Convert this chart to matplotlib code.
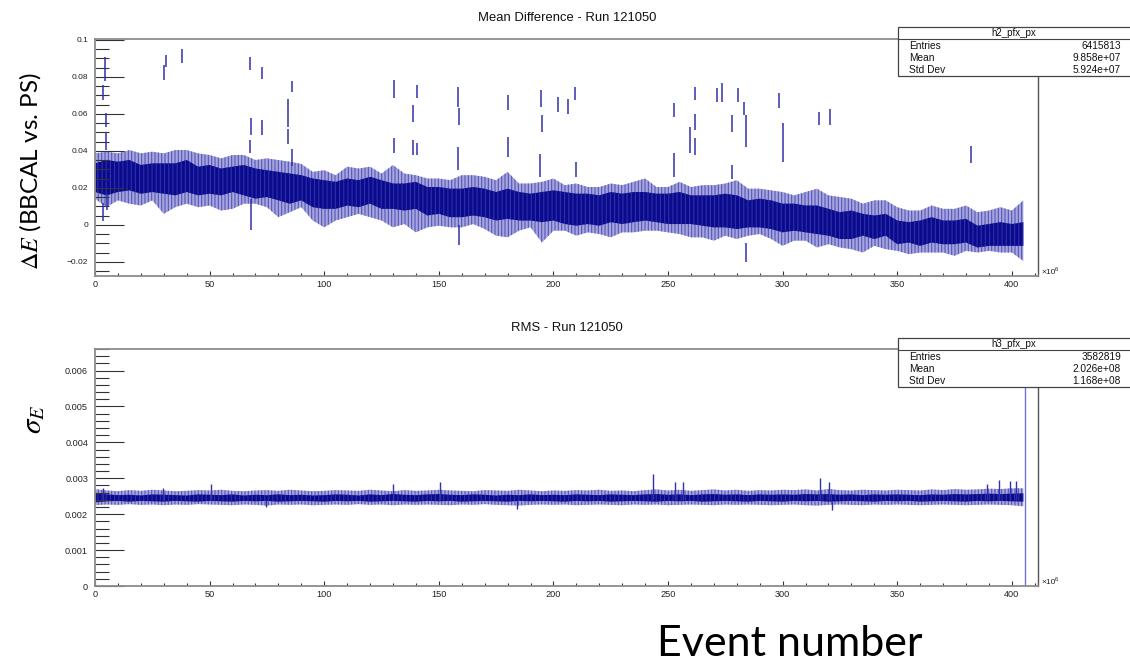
import numpy as np
import matplotlib
matplotlib.use("Agg")
import matplotlib.pyplot as plt
from matplotlib.patches import Rectangle
from matplotlib.lines import Line2D
from matplotlib.ticker import MultipleLocator, FuncFormatter

# ---------------------------------------------------------------- data
# event number (x 10^6) of the sampled profile points
event_grid = list(range(0, 406, 5))

# Mean difference profile (units of 1e-3): dense core and outer spread
dE_core_hi = [33.3, 35.1, 34.2, 35.1, 32.4, 33.3, 33.3, 33.3, 35.1, 31.5,
              32.4, 30.5, 31.5, 32.4, 30.5, 29.6, 28.7, 27.8, 26.9, 25.1,
              24.2, 23.3, 25.1, 24.2, 26.0, 24.2, 22.4, 22.4, 23.3, 20.5,
              20.5, 19.6, 19.6, 20.5, 19.6, 17.8, 19.6, 17.8, 16.9, 17.8,
              18.7, 17.8, 16.9, 16.9, 16.0, 17.8, 16.9, 17.8, 17.8, 16.9,
              16.9, 17.8, 16.0, 16.0, 16.0, 16.9, 16.0, 13.3, 14.2, 13.3,
              11.5, 11.5, 10.5, 10.5, 8.7, 6.9, 7.8, 6.0, 5.1, 6.0,
              2.4, 1.5, 2.4, 4.2, 2.4, 2.4, 3.3, -0.4, 0.5, 1.5,
              0.5, 1.5]
dE_core_lo = [17.8, 16.0, 17.8, 18.7, 16.9, 17.8, 16.9, 16.0, 17.8, 16.0,
              16.9, 16.0, 17.8, 16.0, 14.2, 15.1, 13.3, 11.5, 13.3, 9.6,
              8.7, 8.7, 10.5, 9.6, 11.5, 8.7, 8.7, 7.8, 8.7, 5.1,
              6.0, 4.2, 4.2, 5.1, 4.2, 2.4, 3.3, 2.4, 2.4, 1.5,
              2.4, 0.5, -0.4, 0.5, -0.4, 1.5, 0.5, 1.5, 2.4, 1.5,
              0.5, 0.5, 0.5, -0.4, -1.3, -1.3, -2.2, -1.3, -1.3, -2.2,
              -4.0, -3.1, -4.0, -4.9, -5.8, -7.6, -7.6, -5.8, -7.6, -5.8,
              -10.4, -9.5, -11.3, -9.5, -10.4, -10.4, -9.5, -12.2, -11.3, -11.3,
              -11.3, -11.3]
dE_env_hi = [38.7, 39.6, 38.7, 40.5, 38.7, 39.6, 38.7, 40.5, 40.5, 38.7,
             37.8, 36.0, 37.8, 37.8, 35.1, 36.0, 35.1, 34.2, 33.0, 28.7,
             29.6, 26.9, 31.5, 30.5, 31.5, 27.8, 32.4, 27.8, 26.9, 25.1,
             25.1, 24.2, 26.9, 26.9, 26.0, 24.2, 28.7, 22.4, 22.4, 23.3,
             25.1, 21.5, 22.4, 20.5, 20.5, 22.4, 21.5, 23.3, 25.1, 20.5,
             20.5, 23.3, 20.5, 21.5, 21.5, 22.4, 24.2, 19.6, 19.6, 18.7,
             17.8, 16.0, 17.8, 19.6, 16.0, 15.1, 14.2, 11.5, 13.3, 13.3,
             9.6, 7.8, 7.8, 10.5, 8.7, 8.7, 10.5, 6.9, 7.8, 9.6,
             7.8, 13.3]
dE_env_lo = [14.2, 9.6, 13.3, 11.5, 10.5, 13.3, 6.0, 9.6, 11.5, 9.6,
             10.5, 7.8, 8.7, 11.5, 11.5, 9.6, 4.2, 6.9, 9.6, 2.4,
             -1.3, 2.4, 4.2, 6.0, 4.2, 2.4, -1.3, 0.5, -4.0, -1.3,
             -0.4, -1.3, -1.3, 0.5, -2.2, -5.8, -6.7, -3.1, -1.3, -9.5,
             -3.1, -3.1, -5.8, -4.0, -4.9, -6.7, -4.0, -4.0, -3.1, -3.1,
             -4.0, -4.9, -6.7, -6.7, -8.5, -5.8, -7.6, -5.8, -4.9, -7.6,
             -11.3, -8.5, -8.5, -12.2, -10.4, -12.2, -13.1, -14.9, -11.3, -13.1,
             -14.0, -15.8, -14.9, -14.9, -14.9, -16.7, -14.0, -14.9, -14.0, -14.9,
             -14.9, -19.5]

# isolated high-error bins: event (x 10^6), low, high (units of 1e-3)
dE_outlier_x = [3.6, 4.2, 4.6, 5.0, 3.3, 5.3, 30.2, 30.8, 37.8,
                67.8, 68.2, 67.6, 68.0, 72.7, 72.7, 84.0, 84.4, 85.8, 85.8,
                130.4, 130.4, 138.6, 138.6, 140.4, 140.4,
                158.5, 158.7, 158.5, 158.6, 180.3, 180.3,
                194.4, 194.8, 194.2, 202.0, 206.2, 209.6, 209.8,
                252.8, 252.8, 259.6, 261.8, 261.8, 261.6,
                271.2, 273.4, 277.7, 277.9, 280.6, 283.2, 283.8, 283.8,
                298.6, 300.2, 316.0, 320.6, 382.2]
dE_outlier_lo = [67.6, 78.0, 53.0, 40.5, 2.0, 8.0, 78.4, 85.6, 87.7,
                 84.0, 48.6, 38.7, -3.0, 78.7, 48.6, 53.0, 44.0, 72.0, 32.0,
                 68.5, 38.7, 55.9, 37.8, 68.5, 37.8,
                 64.0, 54.0, 29.7, -10.8, 62.2, 37.0,
                 64.0, 50.5, 26.0, 61.0, 60.0, 67.6, 26.0,
                 58.6, 26.0, 38.7, 67.6, 51.4, 37.8,
                 66.7, 66.7, 50.5, 25.0, 66.7, 59.5, 42.3, -19.8,
                 63.0, 34.2, 54.0, 54.0, 33.7]
dE_outlier_hi = [75.7, 91.0, 60.4, 50.5, 12.0, 17.0, 86.5, 92.0, 95.0,
                 91.0, 57.7, 46.0, 14.0, 85.6, 56.8, 68.0, 52.0, 78.0, 41.0,
                 78.4, 46.8, 64.9, 46.0, 75.7, 44.5,
                 74.4, 63.0, 42.3, 0.0, 70.3, 47.7,
                 73.0, 59.5, 38.4, 69.0, 68.0, 74.8, 34.0,
                 65.8, 38.7, 53.0, 74.8, 60.0, 46.8,
                 73.9, 76.6, 59.5, 32.4, 73.9, 66.7, 59.5, -9.9,
                 71.2, 55.0, 61.3, 62.5, 42.9]

# RMS profile (units of 1e-3)
rms_core_hi = [2.60, 2.55, 2.53, 2.54, 2.52, 2.55, 2.54, 2.53, 2.52, 2.55,
               2.54, 2.53, 2.55, 2.52, 2.54, 2.53, 2.55, 2.53, 2.54, 2.52,
               2.53, 2.55, 2.54, 2.52, 2.55, 2.53, 2.56, 2.54, 2.53, 2.55,
               2.56, 2.54, 2.53, 2.55, 2.54, 2.52, 2.54, 2.53, 2.55, 2.53,
               2.54, 2.53, 2.55, 2.54, 2.53, 2.55, 2.54, 2.53, 2.55, 2.56,
               2.54, 2.55, 2.53, 2.55, 2.56, 2.54, 2.55, 2.53, 2.55, 2.54,
               2.55, 2.54, 2.56, 2.55, 2.56, 2.54, 2.55, 2.53, 2.55, 2.54,
               2.55, 2.54, 2.53, 2.55, 2.54, 2.56, 2.55, 2.56, 2.57, 2.56,
               2.57, 2.58]
rms_core_lo = [2.33, 2.36, 2.37, 2.35, 2.37, 2.36, 2.35, 2.37, 2.36, 2.35,
               2.37, 2.36, 2.35, 2.37, 2.36, 2.37, 2.35, 2.36, 2.37, 2.36,
               2.35, 2.37, 2.36, 2.37, 2.35, 2.36, 2.37, 2.36, 2.35, 2.37,
               2.36, 2.37, 2.35, 2.36, 2.37, 2.36, 2.35, 2.37, 2.36, 2.37,
               2.36, 2.35, 2.37, 2.36, 2.37, 2.35, 2.36, 2.37, 2.36, 2.35,
               2.37, 2.36, 2.37, 2.35, 2.36, 2.37, 2.36, 2.35, 2.37, 2.36,
               2.35, 2.37, 2.36, 2.37, 2.35, 2.36, 2.37, 2.36, 2.35, 2.37,
               2.36, 2.37, 2.35, 2.36, 2.37, 2.36, 2.35, 2.37, 2.36, 2.37,
               2.36, 2.35]
rms_env_hi = [2.70, 2.66, 2.64, 2.67, 2.65, 2.68, 2.66, 2.64, 2.65, 2.67,
              2.66, 2.68, 2.65, 2.64, 2.66, 2.67, 2.65, 2.68, 2.66, 2.64,
              2.65, 2.67, 2.66, 2.65, 2.68, 2.66, 2.64, 2.67, 2.65, 2.66,
              2.68, 2.66, 2.65, 2.64, 2.67, 2.66, 2.65, 2.68, 2.66, 2.64,
              2.66, 2.65, 2.67, 2.66, 2.68, 2.65, 2.66, 2.64, 2.67, 2.69,
              2.66, 2.68, 2.65, 2.67, 2.69, 2.66, 2.68, 2.65, 2.67, 2.66,
              2.68, 2.67, 2.69, 2.66, 2.70, 2.67, 2.66, 2.68, 2.67, 2.66,
              2.68, 2.67, 2.66, 2.69, 2.67, 2.70, 2.68, 2.69, 2.71, 2.70,
              2.72, 2.72]
rms_env_lo = [2.25, 2.27, 2.26, 2.28, 2.26, 2.27, 2.25, 2.27, 2.26, 2.28,
              2.27, 2.26, 2.25, 2.27, 2.26, 2.24, 2.27, 2.26, 2.27, 2.25,
              2.26, 2.27, 2.26, 2.28, 2.26, 2.27, 2.25, 2.27, 2.26, 2.27,
              2.26, 2.25, 2.27, 2.26, 2.28, 2.26, 2.25, 2.24, 2.26, 2.27,
              2.26, 2.27, 2.25, 2.26, 2.27, 2.26, 2.25, 2.27, 2.26, 2.27,
              2.25, 2.26, 2.27, 2.26, 2.25, 2.27, 2.26, 2.27, 2.26, 2.25,
              2.26, 2.27, 2.25, 2.24, 2.26, 2.27, 2.26, 2.25, 2.27, 2.26,
              2.27, 2.26, 2.25, 2.26, 2.27, 2.26, 2.25, 2.26, 2.27, 2.26,
              2.25, 2.22]

# sharp RMS bins: event (x 10^6), low, high (units of 1e-3)
rms_spike_x = [3.6, 29.6, 50.6, 74.5, 130.0, 150.3, 184.3, 243.6, 253.0,
               256.7, 316.5, 320.4, 321.5, 389.0, 394.4, 399.2, 401.6, 405.9]
rms_spike_lo = [2.40, 2.40, 2.40, 2.20, 2.40, 2.40, 2.15, 2.42, 2.40,
                2.40, 2.40, 2.40, 2.12, 2.40, 2.40, 2.40, 2.40, 0.0]
rms_spike_hi = [2.73, 2.73, 2.85, 2.40, 2.85, 2.91, 2.40, 3.11, 2.90,
                2.90, 3.02, 2.90, 2.38, 2.84, 2.94, 2.92, 2.92, 7.5]

mean_stats = ["h2_pfx_px", "6415813", "9.858e+07", "5.924e+07"]
rms_stats = ["h3_pfx_px", "3582819", "2.026e+08", "1.168e+08"]
stat_labels = ["Entries", "Mean", "Std Dev"]

# ---------------------------------------------------------------- style
W, H = 1130, 661
DARK = "#0a0a8c"
DARK_HATCH = "#2f2faa"
LIGHT = "#a6a6dc"
LIGHT_HATCH = "#5656bc"
MID = "#3030aa"
TALL = "#7373d8"
SANS = ["Liberation Sans", "DejaVu Sans"]
plt.rcParams["font.family"] = SANS
plt.rcParams["mathtext.fontset"] = "stix"
plt.rcParams["hatch.linewidth"] = 0.8


def fx(px):
    return px / W


def fy(py):
    return 1 - py / H


def tick_fmt(v, _):
    s = "%g" % round(v, 6)
    return s.replace("-", "\u2212")


def profile_band(ax, lo_env, hi_env, lo_core, hi_core):
    ax.fill_between(u, np.array(lo_env) * k, np.array(hi_env) * k,
                    facecolor=LIGHT, edgecolor=LIGHT_HATCH, hatch="|||||",
                    lw=0)
    ax.fill_between(u, np.array(lo_core) * k, np.array(hi_core) * k,
                    facecolor=DARK, edgecolor=DARK_HATCH, hatch="||||",
                    lw=0)


fig = plt.figure(figsize=(W / 100, H / 100), dpi=100)
ax1 = fig.add_axes([fx(95), fy(276), fx(1038) - fx(95), fy(38.5) - fy(276)])
ax2 = fig.add_axes([fx(95), fy(586), fx(1038) - fx(95), fy(349) - fy(586)])

u = np.array(event_grid, dtype=float)
k = 1e-3

# ---- mean difference
profile_band(ax1, dE_env_lo, dE_env_hi, dE_core_lo, dE_core_hi)
ax1.vlines(dE_outlier_x, np.array(dE_outlier_lo) * k,
           np.array(dE_outlier_hi) * k, color=MID, lw=1.1)

# ---- RMS
profile_band(ax2, rms_env_lo, rms_env_hi, rms_core_lo, rms_core_hi)
spike_colors = [TALL if h > 5 else MID for h in rms_spike_hi]
ax2.vlines(rms_spike_x, np.array(rms_spike_lo) * k,
           np.array(rms_spike_hi) * k, colors=spike_colors, lw=1.0)

for ax, ylo, yhi, ymaj, ymin, lab_size in [
        (ax1, -0.0276, 0.1008, 0.02, 0.005, 6.0),
        (ax2, 0.0, 0.0066, 0.001, 0.0002, 6.6)]:
    ax.set_xlim(0, 411.4)
    ax.set_ylim(ylo, yhi)
    ax.xaxis.set_major_locator(MultipleLocator(50))
    ax.xaxis.set_minor_locator(MultipleLocator(10))
    ax.yaxis.set_major_locator(MultipleLocator(ymaj))
    ax.yaxis.set_minor_locator(MultipleLocator(ymin))
    ax.yaxis.set_major_formatter(FuncFormatter(tick_fmt))
    ax.xaxis.set_major_formatter(FuncFormatter(lambda v, _: "%d" % v))
    ax.tick_params(axis="y", which="major", direction="in", length=21,
                   width=0.8, color="#333333", labelsize=lab_size, pad=5,
                   labelcolor="#222222")
    ax.tick_params(axis="y", which="minor", direction="in", length=10,
                   width=0.8, color="#333333")
    ax.tick_params(axis="x", which="major", direction="in", length=3.8,
                   width=0.8, color="#333333", labelsize=6.6, pad=3,
                   labelcolor="#222222")
    ax.tick_params(axis="x", which="minor", direction="in", length=2.3,
                   width=0.8, color="#333333")
    for side in ("top", "left", "bottom"):
        ax.spines[side].set_color("#8c8c8c")
        ax.spines[side].set_linewidth(1.3)
    ax.spines["right"].set_color("#555555")
    ax.spines["right"].set_linewidth(1.0)

# exponent markers at the end of the x axes
for ybase in (273, 583):
    fig.text(fx(1041), fy(ybase), "\u00d710", fontsize=6.0, ha="left",
             va="center", color="#222222")
    fig.text(fx(1055), fy(ybase - 3.5), "6", fontsize=4.2, ha="left",
             va="center", color="#222222")

# titles
fig.text(fx(567), fy(18), "Mean Difference - Run 121050", ha="center",
         va="center", fontsize=9.4, color="#111111")
fig.text(fx(567), fy(328), "RMS - Run 121050", ha="center", va="center",
         fontsize=9.4, color="#111111")


def stat_box(top, entries):
    left, right = 897.7, 1131.0
    bottom = top + 48.7
    fig.add_artist(Rectangle((fx(left), fy(bottom)), fx(right) - fx(left),
                             fy(top) - fy(bottom), transform=fig.transFigure,
                             facecolor="white", edgecolor="#444444", lw=0.9,
                             zorder=5))
    fig.add_artist(Line2D([fx(left), fx(right)], [fy(top + 11.7)] * 2,
                          transform=fig.transFigure, color="#444444", lw=0.8,
                          zorder=6))
    fig.text(fx(1014), fy(top + 6.3), entries[0], ha="center", va="center",
             fontsize=7.0, color="#111111", zorder=7)
    for i, lab in enumerate(stat_labels):
        yrow = top + 18.7 + i * 12.0
        fig.text(fx(909), fy(yrow), lab, ha="left", va="center",
                 fontsize=7.3, color="#111111", zorder=7)
        fig.text(fx(1121), fy(yrow), entries[i + 1], ha="right", va="center",
                 fontsize=7.3, color="#111111", zorder=7)


stat_box(27.0, mean_stats)
stat_box(338.0, rms_stats)

# axis descriptions
fig.text(fx(30), fy(171), r"$\Delta E$ (BBCAL vs. PS)", rotation=90,
         ha="center", va="center", fontsize=17.5, family=["Lato", "DejaVu Sans"])
fig.text(fx(33), fy(419), r"$\sigma_E$", rotation=90, ha="center",
         va="center", fontsize=21)
fig.text(fx(790), fy(656), "Event number", ha="center", va="baseline",
         fontsize=31, family=["Lato", "DejaVu Sans"])

fig.savefig("out.png", dpi=100)
